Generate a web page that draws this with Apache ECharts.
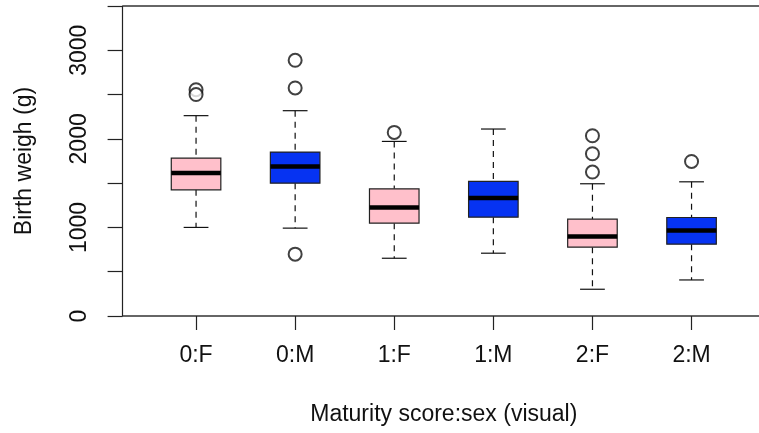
<!DOCTYPE html>
<html>
<head>
<meta charset="utf-8">
<script src="https://cdn.jsdelivr.net/npm/echarts@6/dist/echarts.min.js"></script>
<style>
html,body{margin:0;padding:0;background:#fff;}
#chart{width:759px;height:433px;}
</style>
</head>
<body>
<div id="chart"></div>
<script>
// ---- data ----
const categories = ['0:F', '0:M', '1:F', '1:M', '2:F', '2:M'];
const whiskerLow  = [1000,  992,  652,  709,  302,  407];
const q1          = [1425, 1500, 1048, 1116,  777,  811];
const medians     = [1614, 1688, 1225, 1331,  897,  965];
const q3          = [1783, 1851, 1436, 1519, 1093, 1112];
const whiskerHigh = [2262, 2318, 1971, 2111, 1493, 1515];
const outliers = [
  [0, 2555], [0, 2500],
  [1, 2887], [1, 2575], [1, 698],
  [2, 2073],
  [4, 2035], [4, 1832], [4, 1625],
  [5, 1745]
];
const boxColors = ['#FFC0CB', '#0633F2', '#FFC0CB', '#0633F2', '#FFC0CB', '#0633F2'];
const yTicks = [0, 500, 1000, 1500, 2000, 2500, 3000, 3500];
const yLabels = [0, 1000, 2000, 3000];

// ---- layout ----
const GRID_LEFT = 146.5, GRID_WIDTH = 594.6, GRID_TOP = 6, GRID_HEIGHT = 310;
const AXIS_X = 122.6;
const FONT = 'Liberation Sans, Arial, Helvetica, sans-serif';
const FS = 23;

const boxData = categories.map((c, i) => [i, whiskerLow[i], q1[i], medians[i], q3[i], whiskerHigh[i]]);

function renderBox(params, api) {
  const i = api.value(0);
  const pLo = api.coord([i, api.value(1)]);
  const pQ1 = api.coord([i, api.value(2)]);
  const pMed = api.coord([i, api.value(3)]);
  const pQ3 = api.coord([i, api.value(4)]);
  const pHi = api.coord([i, api.value(5)]);
  const band = api.size([1, 0])[0];
  const bw = band * 0.5, cw = band * 0.25;
  const x = pMed[0];
  const dash = { stroke: '#111', lineWidth: 1.2, lineDash: [6, 5] };
  const solid = { stroke: '#111', lineWidth: 1.2 };
  return {
    type: 'group',
    children: [
      { type: 'line', shape: { x1: x, y1: pHi[1], x2: x, y2: pQ3[1] }, style: dash },
      { type: 'line', shape: { x1: x, y1: pQ1[1], x2: x, y2: pLo[1] }, style: dash },
      { type: 'line', shape: { x1: x - cw / 2, y1: pHi[1], x2: x + cw / 2, y2: pHi[1] }, style: solid },
      { type: 'line', shape: { x1: x - cw / 2, y1: pLo[1], x2: x + cw / 2, y2: pLo[1] }, style: solid },
      { type: 'rect', shape: { x: x - bw / 2, y: pQ3[1], width: bw, height: pQ1[1] - pQ3[1] },
        style: { fill: boxColors[i], stroke: '#222', lineWidth: 1.2 } },
      { type: 'line', shape: { x1: x - bw / 2, y1: pMed[1], x2: x + bw / 2, y2: pMed[1] },
        style: { stroke: '#000', lineWidth: 4.5 } }
    ]
  };
}

const chart = echarts.init(document.getElementById('chart'), null, { renderer: 'canvas' });
chart.setOption({
  backgroundColor: '#fff',
  animation: false,
  textStyle: { fontFamily: FONT },
  grid: { left: GRID_LEFT, width: GRID_WIDTH, top: GRID_TOP, height: GRID_HEIGHT },
  xAxis: {
    type: 'category',
    data: categories,
    boundaryGap: true,
    axisLine: { show: false },
    axisTick: { show: true, alignWithLabel: true, length: 14, lineStyle: { color: '#222', width: 1.2 } },
    axisLabel: { fontSize: FS, color: '#111', margin: 28, fontFamily: FONT },
    splitLine: { show: false },
    name: 'Maturity score:sex (visual)',
    nameLocation: 'middle',
    nameGap: 87,
    nameTextStyle: { fontSize: FS, color: '#111', fontFamily: FONT }
  },
  yAxis: {
    type: 'value',
    min: 0, max: 3500, interval: 500,
    offset: GRID_LEFT - AXIS_X,
    axisLine: { show: true, lineStyle: { color: '#222', width: 1.2 } },
    axisTick: { show: true, length: 15, lineStyle: { color: '#222', width: 1.2 } },
    axisLabel: {
      rotate: 90, fontSize: FS, color: '#111', margin: 31, fontFamily: FONT,
      formatter: v => (yLabels.indexOf(v) >= 0 ? String(v) : '')
    },
    splitLine: { show: false },
    name: 'Birth weigh (g)',
    nameLocation: 'middle',
    nameGap: 86,
    nameTextStyle: { fontSize: FS, color: '#111', fontFamily: FONT }
  },
  graphic: [
    { type: 'line', shape: { x1: AXIS_X, y1: GRID_TOP, x2: 800, y2: GRID_TOP }, style: { stroke: '#333', lineWidth: 1.5 } },
    { type: 'line', shape: { x1: AXIS_X, y1: GRID_TOP + GRID_HEIGHT, x2: 800, y2: GRID_TOP + GRID_HEIGHT }, style: { stroke: '#333', lineWidth: 1.5 } }
  ],
  series: [
    {
      type: 'custom',
      renderItem: renderBox,
      data: boxData,
      encode: { x: 0, y: [1, 2, 3, 4, 5] },
      z: 2
    },
    {
      type: 'scatter',
      data: outliers,
      symbol: 'emptyCircle',
      symbolSize: 13,
      itemStyle: { color: '#111', borderColor: '#111', borderWidth: 1.2 },
      z: 3
    }
  ]
});
</script>
</body>
</html>
